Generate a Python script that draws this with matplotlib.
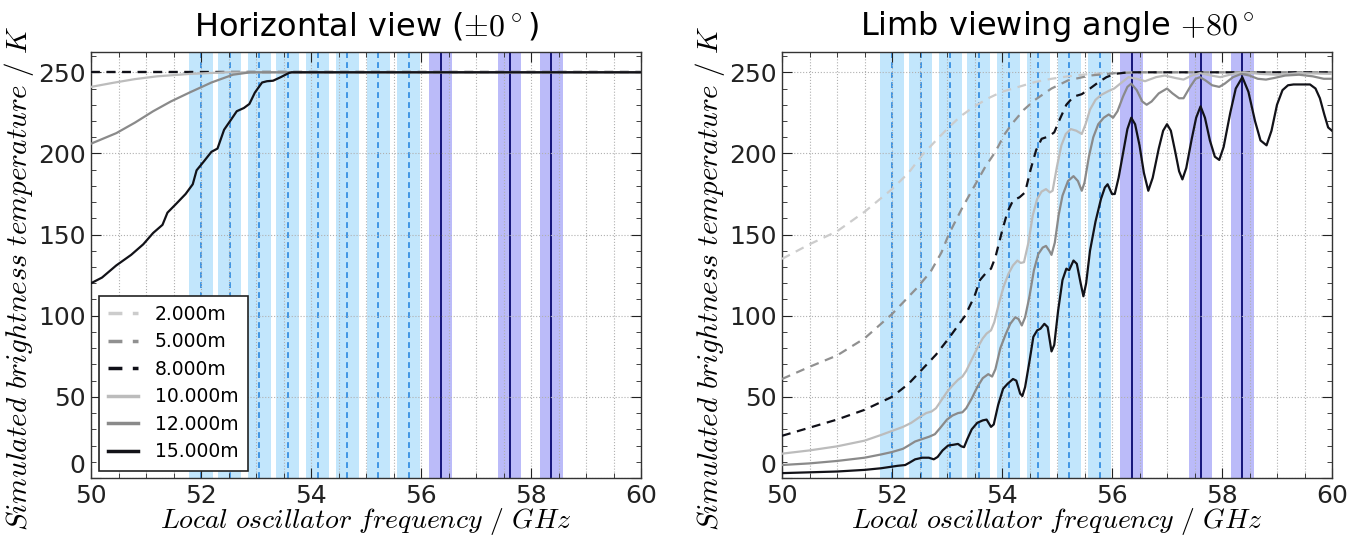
import matplotlib
matplotlib.use("Agg")
import matplotlib.pyplot as plt
from matplotlib.ticker import MultipleLocator

# channel centres in GHz (light = dashed, dark = solid)
light_channels = [52.0, 52.52, 53.06, 53.58, 54.12, 54.66, 55.22, 55.78]
dark_channels = [56.36, 57.61, 58.37]
band_halfwidth = 0.21

labels = ["2.000m", "5.000m", "8.000m", "10.000m", "12.000m", "15.000m"]

# ---- horizontal view (left) ----
h_f_flat = [50.0, 60.0]
h_tb_2km = [250, 250]
h_tb_5km = [250, 250]
h_tb_8km = [250, 250]

h_f_10km = [50.0, 50.4, 50.8, 51.2, 51.8, 52.2, 52.45, 60.0]
h_tb_10km = [241, 243.5, 245.8, 247.5, 249, 249.6, 250, 250]

h_f_12km = [50.0, 50.46, 50.8, 51.13, 51.45, 51.79, 52.19, 52.58, 52.9, 60.0]
h_tb_12km = [206, 212.5, 219, 226, 232, 237.5, 243.7, 248.5, 250, 250]

h_f_15km = [50.0, 50.2, 50.46, 50.73, 50.95, 51.13, 51.3, 51.39, 51.55, 51.72,
            51.85, 51.92, 52.05, 52.19, 52.3, 52.42, 52.55, 52.65, 52.78, 52.88,
            52.98, 53.11, 53.2, 53.31, 53.45, 53.6, 53.65, 60.0]
h_tb_15km = [120, 123.5, 131, 137.5, 144, 151, 156, 163.5, 169, 175,
             181, 189.6, 195, 201, 203, 214.6, 221, 226, 228, 230.5,
             237.5, 243.7, 244.5, 244.8, 247, 249.6, 250, 250]

# ---- limb view +80 deg (right) ----
l_f_2km = [50.0, 50.5, 51.0, 51.5, 52.0, 52.3, 52.55, 52.8, 53.03, 53.25, 53.5,
           53.75, 54.0, 54.3, 54.6, 54.9, 55.2, 55.6, 56.0, 56.5, 60.0]
l_tb_2km = [135, 144, 152, 164, 178, 188, 199, 208, 216, 223, 229,
            234, 238, 241, 244, 246, 247.5, 249, 249.5, 250, 250]

l_f_5km = [50.0, 50.5, 51.0, 51.5, 52.0, 52.45, 52.7, 52.9, 53.03, 53.27, 53.5,
           53.7, 53.88, 54.05, 54.2, 54.4, 54.6, 54.9, 55.2, 55.6, 56.06, 56.5, 60.0]
l_tb_5km = [61, 68.5, 75.5, 86, 101, 117, 127, 139, 150, 166, 180,
            192, 201, 212, 219, 227, 233, 240, 245, 248, 249.5, 250, 250]

l_f_8km = [50.0, 50.5, 51.0, 51.5, 52.0, 52.3, 52.55, 52.8, 53.03, 53.33, 53.5,
           53.6, 53.7, 53.8, 53.88, 54.0, 54.1, 54.2, 54.32, 54.42, 54.52, 54.62,
           54.72, 54.85, 54.95, 55.05, 55.17, 55.3, 55.45, 55.6, 55.76, 55.9,
           56.05, 56.3, 60.0]
l_tb_8km = [26, 31, 36, 42, 50, 58, 67, 76, 86, 100, 112,
            122, 126, 129, 136, 152, 164, 171, 173, 176, 190, 202,
            209, 210.5, 213, 221, 230, 235, 236.5, 240, 244, 247,
            249, 250, 250]

l_f_10km = [50.0, 50.5, 51.0, 51.5, 51.8, 52.0, 52.2, 52.35, 52.5, 52.62, 52.72,
            52.8, 52.9, 53.0, 53.1, 53.2, 53.28, 53.35, 53.45, 53.55, 53.65,
            53.72, 53.8, 53.86, 53.94, 54.03, 54.12, 54.2, 54.28, 54.34, 54.4,
            54.48, 54.56, 54.64, 54.72, 54.8, 54.87, 54.92, 55.0, 55.08, 55.16,
            55.25, 55.35, 55.45, 55.52, 55.6, 55.7, 55.8, 55.94, 56.04, 56.15,
            56.3, 56.45, 56.6, 56.8, 56.96, 57.15, 57.3, 57.45, 57.6, 57.8,
            57.97, 58.2, 58.4, 58.7, 59.0, 59.4, 60.0]
l_tb_10km = [15, 17, 19.5, 23, 26.5, 29, 31.5, 34, 37.5, 40, 41,
             43, 48, 53, 57, 60.5, 62.5, 66, 73, 80, 86,
             89, 91, 96, 107, 118, 126, 131, 134, 132.5, 133,
             145, 162, 172, 176.5, 178, 176, 177, 192, 205, 212,
             215, 214, 212, 218, 227, 233, 236, 238.5, 240, 243,
             247, 246, 244.5, 247, 248, 246.5, 245.5, 248, 249.5, 248,
             247, 249, 250, 249, 248.5, 249.5, 249]

l_f_12km = [50.0, 50.5, 51.0, 51.5, 51.8, 52.0, 52.2, 52.3, 52.42, 52.55, 52.68,
            52.78, 52.88, 53.0, 53.1, 53.2, 53.28, 53.35, 53.45, 53.55, 53.65,
            53.75, 53.82, 53.88, 53.97, 54.06, 54.15, 54.24, 54.3, 54.36, 54.42,
            54.5, 54.58, 54.66, 54.74, 54.8, 54.86, 54.9, 54.96, 55.03, 55.1,
            55.2, 55.3, 55.38, 55.45, 55.5, 55.58, 55.66, 55.75, 55.85, 55.94,
            56.02, 56.1, 56.2, 56.28, 56.35, 56.45, 56.55, 56.63, 56.72, 56.85,
            57.0, 57.1, 57.22, 57.3, 57.42, 57.52, 57.6, 57.7, 57.82, 57.95,
            58.05, 58.2, 58.35, 58.5, 58.65, 58.8, 58.95, 59.15, 59.4, 59.65,
            59.85, 60.0]
l_tb_12km = [8, 9, 10.5, 12.5, 14.5, 16, 18, 20, 22.5, 24, 25.5,
             27, 31, 36, 38.5, 40, 40.5, 43, 49, 56, 61.5,
             64, 62.5, 67, 80, 88, 95, 99, 98, 94, 99,
             112, 128, 138, 142, 143, 140, 137.5, 145, 162, 174,
             183, 186, 183, 177, 182, 198, 210, 218, 222, 224,
             222, 226, 235, 241, 243, 239, 232, 230, 232, 237,
             240, 237, 234, 234, 241, 246, 247, 245, 242, 241,
             243, 247, 249, 248, 246, 245.5, 246.5, 248, 248.5, 247.5,
             246, 246]

l_f_15km = [50.0, 50.5, 51.0, 51.5, 51.8, 52.0, 52.1, 52.24, 52.32, 52.42, 52.55,
            52.67, 52.76, 52.83, 52.92, 53.02, 53.12, 53.2, 53.26, 53.31, 53.37,
            53.45, 53.55, 53.65, 53.72, 53.8, 53.85, 53.93, 54.02, 54.1, 54.2,
            54.26, 54.33, 54.37, 54.42, 54.5, 54.57, 54.64, 54.7, 54.77, 54.83,
            54.9, 54.95, 55.02, 55.1, 55.17, 55.22, 55.3, 55.36, 55.43, 55.48,
            55.53, 55.6, 55.7, 55.8, 55.87, 55.92, 56.0, 56.05, 56.12, 56.2,
            56.28, 56.35, 56.42, 56.5, 56.58, 56.66, 56.74, 56.85, 56.93, 57.0,
            57.07, 57.15, 57.22, 57.28, 57.35, 57.45, 57.53, 57.61, 57.69, 57.78,
            57.87, 57.95, 58.03, 58.15, 58.25, 58.37, 58.48, 58.6, 58.7, 58.81,
            58.9, 59.0, 59.1, 59.2, 59.3, 59.6, 59.7, 59.78, 59.86, 59.93, 60.0]
l_tb_15km = [3, 3.5, 4, 5, 6, 7, 7.5, 8, 9.5, 11.5, 12.5,
             12.5, 11.5, 13, 17, 20, 20.5, 21, 19.5, 19, 24,
             30, 34, 35.5, 36, 31.5, 33, 45, 55, 58, 61,
             60, 52, 50.5, 56, 72, 87, 91, 92, 95, 93,
             78, 82, 103, 122, 129, 128, 134, 132, 120, 112,
             120, 140, 158, 172, 179, 181, 175, 175, 185, 200,
             215, 222, 218, 205, 188, 177, 185, 203, 214, 218,
             214, 201, 189, 184, 191, 209, 222, 229, 222, 208,
             198, 196, 204, 225, 240, 247, 238, 220, 208, 205,
             214, 230, 239, 242, 242.5, 242.5, 240, 234, 224, 216, 214]

styles = [
    dict(color="#cccccc", ls=(0, (4, 3))),
    dict(color="#909090", ls=(0, (4, 3))),
    dict(color="#101018", ls=(0, (4, 3))),
    dict(color="#bcbcbc", ls="-"),
    dict(color="#8a8a8a", ls="-"),
    dict(color="#121218", ls="-"),
]


def draw_bands(ax):
    for c in light_channels:
        ax.axvspan(c - band_halfwidth, c + band_halfwidth, color="lightskyblue",
                   alpha=0.5, lw=0, zorder=0)
        ax.axvline(c, color="#2a88e0", ls=(0, (3.5, 2.5)), lw=1.2, zorder=1)
    for c in dark_channels:
        ax.axvspan(c - band_halfwidth, c + band_halfwidth, color="#3333ee",
                   alpha=0.33, lw=0, zorder=0)
        ax.axvline(c, color="#14147a", lw=1.4, zorder=1)


def style_axes(ax, title):
    ax.set_xlim(50, 60)
    ax.set_ylim(0, 262.5)
    ax.xaxis.set_major_locator(MultipleLocator(2))
    ax.xaxis.set_minor_locator(MultipleLocator(0.5))
    ax.yaxis.set_major_locator(MultipleLocator(50))
    ax.yaxis.set_minor_locator(MultipleLocator(10))
    ax.tick_params(which="both", direction="in", top=True, right=True,
                   labelsize=18, colors="#222222", pad=4)
    ax.tick_params(which="major", length=7, width=0.8)
    ax.tick_params(which="minor", length=3.5, width=0.6)
    ax.grid(which="both", axis="x", ls=":", color="#b0b0b0", lw=0.8)
    ax.grid(which="major", axis="y", ls=":", color="#b0b0b0", lw=0.8)
    for s in ax.spines.values():
        s.set_color("#333333")
        s.set_linewidth(1.0)
    ax.set_title(title, fontsize=23, pad=12)
    ax.set_xlabel(r"$Local\ oscillator\ frequency\ /\ GHz$", fontsize=20)
    ax.set_ylabel(r"$Simulated\ brightness\ temperature\ /\ K$", fontsize=21)
    ax.xaxis.set_label_coords(0.5, -0.065)
    ax.yaxis.set_label_coords(-0.1, 0.47)


def lift_zero_label(ax):
    # the zero label sits just above the corner, as in the original
    for tick in ax.yaxis.get_major_ticks():
        if abs(tick.get_loc()) < 1e-9:
            tick.label1.set_verticalalignment("bottom")


def main():
    plt.rcParams["font.family"] = ["DejaVu Sans"]
    plt.rcParams["mathtext.fontset"] = "cm"

    fig = plt.figure(figsize=(13.48, 5.38), dpi=100)
    ax1 = fig.add_axes([91 / 1348, 60 / 538, 550 / 1348, 426 / 538])
    ax2 = fig.add_axes([782 / 1348, 60 / 538, 550 / 1348, 426 / 538])

    draw_bands(ax1)
    left = [(h_f_flat, h_tb_2km), (h_f_flat, h_tb_5km), (h_f_flat, h_tb_8km),
            (h_f_10km, h_tb_10km), (h_f_12km, h_tb_12km), (h_f_15km, h_tb_15km)]
    for (f, tb), st, lab in zip(left, styles, labels):
        ax1.plot(f, tb, lw=1.6, label=lab, zorder=3, **st)
    style_axes(ax1, r"Horizontal view ($\pm0^\circ$)")
    leg = ax1.legend(loc="lower left", fontsize=13.5, labelspacing=0.45,
                     handlelength=1.6, handletextpad=0.9, borderpad=0.5,
                     fancybox=False, framealpha=1, borderaxespad=0.4)
    leg.get_frame().set_edgecolor("#222222")
    leg.get_frame().set_linewidth(1.2)
    for line in leg.get_lines():
        line.set_linewidth(2.5)

    draw_bands(ax2)
    right = [(l_f_2km, l_tb_2km), (l_f_5km, l_tb_5km), (l_f_8km, l_tb_8km),
             (l_f_10km, l_tb_10km), (l_f_12km, l_tb_12km), (l_f_15km, l_tb_15km)]
    for (f, tb), st, lab in zip(right, styles, labels):
        ax2.plot(f, tb, lw=1.6, label=lab, zorder=3, **st)
    style_axes(ax2, r"Limb viewing angle $+80^\circ$")

    fig.canvas.draw()
    lift_zero_label(ax1)
    lift_zero_label(ax2)

    fig.savefig("out.png", dpi=100)


if __name__ == "__main__":
    main()
